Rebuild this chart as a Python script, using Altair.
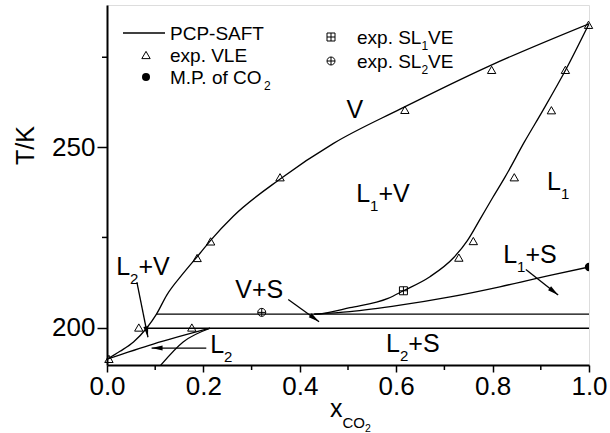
import math
import altair as alt
import pandas as pd

FONT = "Liberation Sans"
W, H = 482, 360
XDOM = [0.0, 1.0]
YDOM = [189.6, 289.5]
PXX = W / (XDOM[1] - XDOM[0])
PXT = H / (YDOM[1] - YDOM[0])

# ---------------- data ----------------
# PCP-SAFT curves
dew_x = [0.0, 0.027, 0.055, 0.082, 0.103, 0.124, 0.158, 0.193, 0.215, 0.262, 0.36, 0.47, 0.608, 0.795, 1.0]
dew_T = [191.2, 193.4, 196.0, 199.8, 203.8, 209.0, 215.0, 220.6, 224.2, 230.9, 241.3, 251.1, 260.6, 272.7, 284.3]

bub1_x = [0.43, 0.442, 0.504, 0.583, 0.615, 0.670, 0.720, 0.748, 0.775, 0.800, 0.826, 0.866, 0.905, 0.952, 1.0]
bub1_T = [203.7, 203.8, 205.5, 208.1, 210.2, 214.1, 219.5, 224.2, 230.3, 236.0, 241.8, 251.5, 260.4, 271.6, 284.3]

sle1_x = [0.43, 0.504, 0.608, 0.712, 0.815, 0.919, 1.0]
sle1_T = [203.7, 204.4, 206.2, 208.5, 211.3, 214.5, 216.8]

bub2_x = [0.0, 0.096, 0.214]
bub2_T = [191.2, 195.4, 199.8]

sle2_x = [0.108, 0.158, 0.214]
sle2_T = [189.0, 196.0, 199.8]

vs_line_x = [0.102, 1.0]
vs_line_T = [203.7, 203.7]

l2s_line_x = [0.082, 1.0]
l2s_line_T = [199.8, 199.8]

# experimental points
vle_x = [0.004, 0.066, 0.176, 0.187, 0.215, 0.359, 0.618, 0.798, 0.999, 0.951, 0.922, 0.845, 0.760, 0.730]
vle_T = [191.3, 200.0, 200.0, 219.3, 223.9, 241.7, 260.4, 271.5, 284.0, 271.5, 260.3, 241.7, 224.0, 219.4]
sl1ve_x = [0.615]
sl1ve_T = [210.2]
sl2ve_x = [0.321]
sl2ve_T = [204.2]
mp_x = [1.0]
mp_T = [216.8]

# arrows (start -> tip)
arrow_x0 = [0.062, 0.206, 0.376, 0.869]
arrow_T0 = [212.6, 194.3, 207.8, 216.1]
arrow_x1 = [0.085, 0.0925, 0.440, 0.936]
arrow_T1 = [197.3, 194.3, 201.6, 209.0]

# region labels: (x, T of left baseline, segments: (text, is_subscript))
region_labels = [
    (0.497, 258.1, [("V", 0)]),
    (0.517, 234.8, [("L", 0), ("1", 1), ("+V", 0)]),
    (0.913, 238.1, [("L", 0), ("1", 1)]),
    (0.822, 217.8, [("L", 0), ("1", 1), ("+S", 0)]),
    (0.579, 193.2, [("L", 0), ("2", 1), ("+S", 0)]),
    (0.266, 208.1, [("V+S", 0)]),
    (0.019, 214.5, [("L", 0), ("2", 1), ("+V", 0)]),
    (0.214, 192.8, [("L", 0), ("2", 1)]),
]

x_ticks = [0.0, 0.2, 0.4, 0.6, 0.8, 1.0]
x_minor = [0.1, 0.3, 0.5, 0.7, 0.9]
y_ticks = [200, 250]
y_minor = [225, 275]

# ---------------- helpers ----------------
AW = {'L': 0.556, 'V': 0.667, 'S': 0.667, '+': 0.584, '1': 0.556, '2': 0.556, 'x': 0.5,
      'C': 0.722, 'O': 0.778, 'P': 0.667, 'M': 0.833, '.': 0.278, ' ': 0.278, 'o': 0.556,
      'f': 0.278, 'e': 0.556, 'p': 0.556, 'E': 0.667, 'A': 0.667, 'F': 0.611, 'T': 0.611,
      '-': 0.333, '/': 0.278, 'K': 0.667}


def tw(s, fs):
    return sum(AW.get(c, 0.6) for c in s) * fs


xscale = alt.Scale(domain=XDOM, nice=False, zero=False)
yscale = alt.Scale(domain=YDOM, nice=False, zero=False)
xaxis = alt.Axis(values=x_ticks, format=".1f", title=None, grid=False,
                 labelFont=FONT, labelFontSize=26, labelColor="black", labelPadding=1,
                 tickSize=7, tickWidth=1.5, tickColor="black",
                 domainColor="black", domainWidth=2, labelFlush=False)
yaxis = alt.Axis(values=y_ticks, format="d", grid=False, title="T/K",
                 labelFont=FONT, labelFontSize=26, labelColor="black", labelPadding=2,
                 tickSize=10, tickWidth=1.5, tickColor="black",
                 domainColor="black", domainWidth=2,
                 titleFont=FONT, titleFontSize=25, titleFontWeight="normal", titleColor="black",
                 titleAngle=270, titleX=-82, titleY=140, titleAlign="center", titleBaseline="middle")


def X(field="x"):
    return alt.X(f"{field}:Q", scale=xscale, axis=xaxis)


def Y(field="T"):
    return alt.Y(f"{field}:Q", scale=yscale, axis=yaxis)


one = pd.DataFrame({"a": [0]})
layers = []

# curves
curves = [(dew_x, dew_T, "dew"), (bub1_x, bub1_T, "bub1"), (sle1_x, sle1_T, "sle1"),
          (bub2_x, bub2_T, "bub2"), (sle2_x, sle2_T, "sle2"),
          (vs_line_x, vs_line_T, "vs"), (l2s_line_x, l2s_line_T, "l2s")]
rows = []
for xs, ts, name in curves:
    for i, (a, b) in enumerate(zip(xs, ts)):
        rows.append({"x": a, "T": b, "curve": name, "ord": i})
curve_df = pd.DataFrame(rows)
layers.append(
    alt.Chart(curve_df).mark_line(color="black", strokeWidth=1.3, interpolate="monotone", clip=True)
    .encode(x=X(), y=Y(), detail="curve:N", order="ord:Q")
)

# minor ticks
layers.append(
    alt.Chart(pd.DataFrame({"x": x_minor})).mark_rule(color="black", strokeWidth=1.5)
    .encode(x=X(), y=alt.value(H), y2=alt.value(H + 5))
)
layers.append(
    alt.Chart(pd.DataFrame({"T": y_minor})).mark_rule(color="black", strokeWidth=1.5)
    .encode(y=Y(), x=alt.value(0), x2=alt.value(-5))
)

# arrows
arr_rows = []
for a0, t0, a1, t1 in zip(arrow_x0, arrow_T0, arrow_x1, arrow_T1):
    dxp = (a1 - a0) * PXX
    dyp = -(t1 - t0) * PXT
    ang = math.degrees(math.atan2(dxp, -dyp)) % 360
    arr_rows.append({"x": a0, "T": t0, "x2": a1, "T2": t1, "ang": ang})
arr_df = pd.DataFrame(arr_rows)
layers.append(
    alt.Chart(arr_df).mark_rule(color="black", strokeWidth=1.3)
    .encode(x=X(), y=Y(), x2="x2:Q", y2="T2:Q")
)
head_path = "M0,0L0.45,2L-0.45,2Z"
layers.append(
    alt.Chart(arr_df).mark_point(shape=head_path, filled=True, color="black", size=120, opacity=1)
    .encode(x=X("x2"), y=Y("T2"), angle=alt.Angle("ang:Q", scale=None))
)

# experimental points
tri = alt.Chart(pd.DataFrame({"x": vle_x, "T": vle_T})).mark_point(
    shape="triangle-up", filled=False, color="black", strokeWidth=1, size=70, opacity=1
).encode(x=X(), y=Y())
layers.append(tri)

sqplus = "M-1,-1H1V1H-1ZM-1,0H1M0,-1V1"
ciplus = "M-1,0A1,1,0,1,1,1,0A1,1,0,1,1,-1,0ZM-1,0H1M0,-1V1"
layers.append(
    alt.Chart(pd.DataFrame({"x": sl1ve_x, "T": sl1ve_T})).mark_point(
        shape=sqplus, filled=False, color="black", strokeWidth=1, size=64, opacity=1
    ).encode(x=X(), y=Y())
)
layers.append(
    alt.Chart(pd.DataFrame({"x": sl2ve_x, "T": sl2ve_T})).mark_point(
        shape=ciplus, filled=False, color="black", strokeWidth=1, size=64, opacity=1
    ).encode(x=X(), y=Y())
)
layers.append(
    alt.Chart(pd.DataFrame({"x": mp_x, "T": mp_T})).mark_point(
        shape="circle", filled=True, color="black", size=70, opacity=1, clip=True
    ).encode(x=X(), y=Y())
)

# region labels
MAIN, SUB, SUBDY = 25, 15, 9
for lx, lt, segs in region_labels:
    off = 0.0
    for text, is_sub in segs:
        fs = SUB if is_sub else MAIN
        layers.append(
            alt.Chart(pd.DataFrame({"x": [lx], "T": [lt]})).mark_text(
                text=text, font=FONT, fontSize=fs, align="left", baseline="alphabetic",
                dx=off, dy=SUBDY if is_sub else 0, color="black"
            ).encode(x=X(), y=Y())
        )
        off += tw(text, fs)


# pixel-placed text helper (legend, x title)
def pix_text(x0, y0, segs, main, sub, subdy):
    out = []
    off = 0.0
    for text, lvl in segs:
        fs = [main, sub, sub * 0.7][lvl]
        dy = [0, subdy, subdy * 1.35][lvl]
        out.append(
            alt.Chart(one).mark_text(
                text=text, font=FONT, fontSize=fs, align="left", baseline="alphabetic", color="black"
            ).encode(x=alt.value(x0 + off), y=alt.value(y0 + dy))
        )
        off += tw(text, fs)
    return out


# legend (pixel positions relative to plot origin)
LX0, LY0 = 107, 5
LF, LS = 19, 12
left_sym_x = 146 - LX0
left_txt_x = 170 - LX0
right_sym_x = 331 - LX0
right_txt_x = 357 - LX0
rows_left = [33 - LY0, 55 - LY0, 77 - LY0]
rows_right = [37 - LY0, 61 - LY0]

layers.append(
    alt.Chart(one).mark_rule(color="black", strokeWidth=1.3)
    .encode(x=alt.value(123 - LX0), x2=alt.value(165 - LX0), y=alt.value(rows_left[0]))
)
layers.append(
    alt.Chart(one).mark_point(shape="triangle-up", filled=False, color="black", size=70, strokeWidth=1, opacity=1)
    .encode(x=alt.value(left_sym_x), y=alt.value(rows_left[1]))
)
layers.append(
    alt.Chart(one).mark_point(shape="circle", filled=True, color="black", size=64, opacity=1)
    .encode(x=alt.value(left_sym_x), y=alt.value(rows_left[2]))
)
layers.append(
    alt.Chart(one).mark_point(shape=sqplus, filled=False, color="black", size=64, strokeWidth=1, opacity=1)
    .encode(x=alt.value(right_sym_x), y=alt.value(rows_right[0]))
)
layers.append(
    alt.Chart(one).mark_point(shape=ciplus, filled=False, color="black", size=64, strokeWidth=1, opacity=1)
    .encode(x=alt.value(right_sym_x), y=alt.value(rows_right[1]))
)
BL = 7
layers += pix_text(left_txt_x, rows_left[0] + BL, [("PCP-SAFT", 0)], LF, LS, 6)
layers += pix_text(left_txt_x, rows_left[1] + BL, [("exp. VLE", 0)], LF, LS, 6)
layers += pix_text(left_txt_x, rows_left[2] + BL, [("M.P. of CO", 0), ("2", 1)], LF, LS, 6)
layers += pix_text(right_txt_x, rows_right[0] + BL, [("exp. SL", 0), ("1", 1), ("VE", 0)], LF, LS, 6)
layers += pix_text(right_txt_x, rows_right[1] + BL, [("exp. SL", 0), ("2", 1), ("VE", 0)], LF, LS, 6)

# x-axis title: x with subscript CO2
layers += pix_text(330 - LX0, 417 - LY0, [("x", 0), ("CO", 1), ("2", 2)], 25, 15, 11)

chart = alt.layer(*layers).properties(
    width=W, height=H,
    autosize=alt.AutoSizeParams(type="none"),
    padding={"left": 107, "top": 5, "right": 21, "bottom": 68},
).configure_view(stroke="black", strokeWidth=2).configure(background="white")

chart.save("out.html", embed_options={"renderer": "svg", "actions": False})
